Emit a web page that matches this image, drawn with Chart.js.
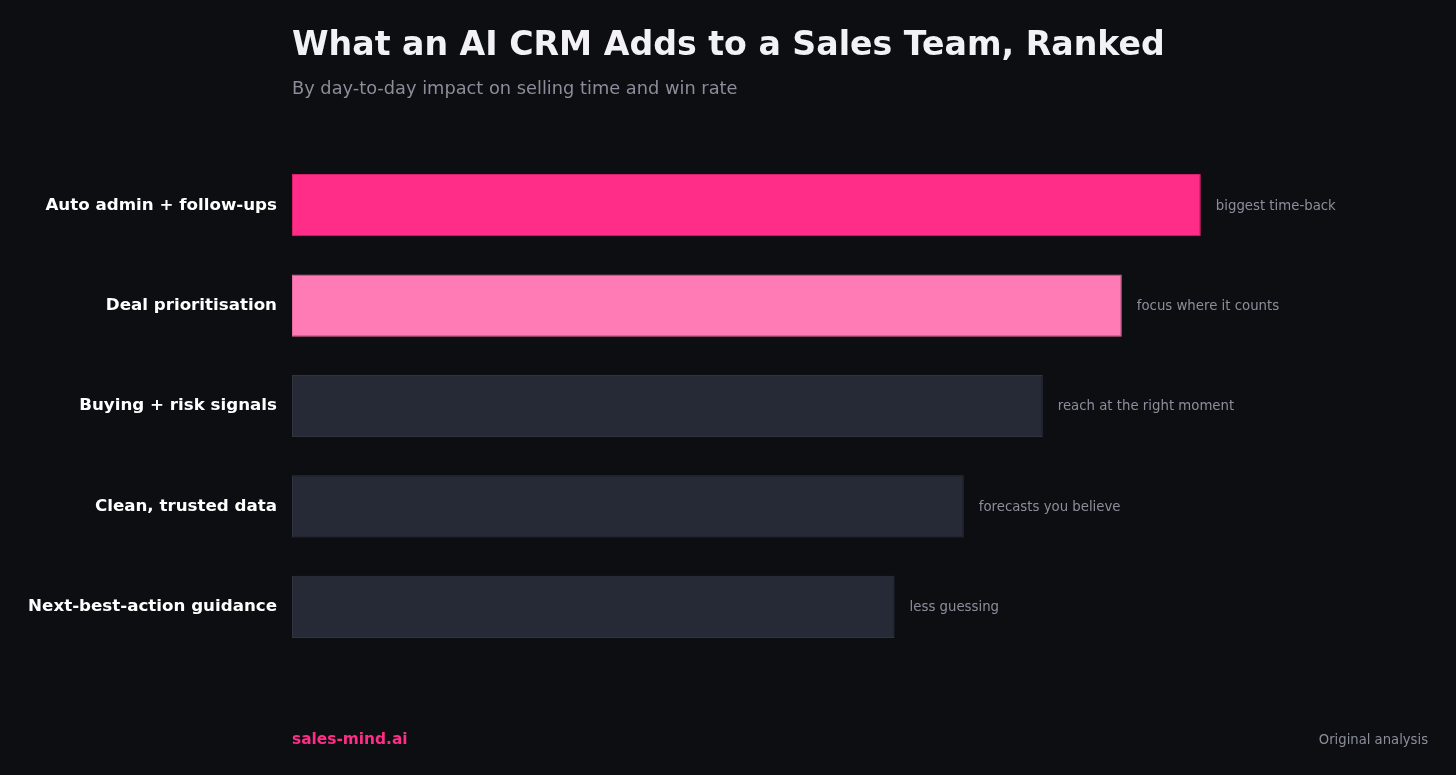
<!DOCTYPE html>
<html>
<head>
<meta charset="utf-8">
<script src="https://cdn.jsdelivr.net/npm/chart.js@4"></script>
<style>
  html, body { margin: 0; padding: 0; background: #0d0e12; }
  canvas { display: block; }
</style>
</head>
<body>
<canvas id="chart" width="1456" height="775"></canvas>
<script>
// Chart data
const categories = ['Auto admin + follow-ups', 'Deal prioritisation', 'Buying + risk signals', 'Clean, trusted data', 'Next-best-action guidance'];
const impactScores = [92, 84, 76, 68, 61];
const notes = ['biggest time-back', 'focus where it counts', 'reach at the right moment', 'forecasts you believe', 'less guessing'];
const barColors = ['#ff2d87', '#ff7bb5', '#262a36', '#262a36', '#262a36'];
const barBorders = ['#d8206f', '#e76aa2', '#30343f', '#30343f', '#30343f'];

const FONT = '"DejaVu Sans", Verdana, sans-serif';

// Title, subtitle, notes and footer drawn on the canvas
const textPlugin = {
    id: 'textPlugin',
    beforeDraw(chart) {
        const ctx = chart.ctx;
        ctx.save();
        ctx.fillStyle = '#0d0e12';
        ctx.fillRect(0, 0, chart.width, chart.height);
        ctx.restore();
    },
    afterDatasetsDraw(chart) {
        const ctx = chart.ctx;
        const left = chart.chartArea.left;
        ctx.save();
        ctx.textBaseline = 'alphabetic';
        ctx.textAlign = 'left';
        ctx.fillStyle = '#f2f2f6';
        ctx.font = 'bold 33.2px ' + FONT;
        ctx.fillText('What an AI CRM Adds to a Sales Team, Ranked', left, 55);
        ctx.fillStyle = '#8a8d9a';
        ctx.font = '17.8px ' + FONT;
        ctx.fillText('By day-to-day impact on selling time and win rate', left, 94);

        // notes next to each bar
        ctx.font = '13.3px ' + FONT;
        ctx.fillStyle = '#8b8f9b';
        ctx.textBaseline = 'middle';
        const meta = chart.getDatasetMeta(0);
        meta.data.forEach((bar, i) => {
            ctx.fillText(notes[i], bar.x + 15, bar.y + 1);
        });

        // footer
        ctx.textBaseline = 'alphabetic';
        ctx.font = 'bold 15.4px ' + FONT;
        ctx.fillStyle = '#ff2d87';
        ctx.fillText('sales-mind.ai', left, 744);
        ctx.font = '13.2px ' + FONT;
        ctx.fillStyle = '#8b8f9b';
        ctx.textAlign = 'right';
        ctx.fillText('Original analysis', chart.chartArea.right, 744);
        ctx.restore();
    }
};

new Chart(document.getElementById('chart').getContext('2d'), {
    type: 'bar',
    data: {
        labels: categories,
        datasets: [{
            data: impactScores,
            backgroundColor: barColors,
            borderColor: barBorders,
            borderWidth: 1,
            borderSkipped: false,
            categoryPercentage: 0.62,
            barPercentage: 1
        }]
    },
    options: {
        indexAxis: 'y',
        responsive: false,
        animation: false,
        devicePixelRatio: 1,
        layout: { padding: { top: 155, right: 28, bottom: 118, left: 0 } },
        plugins: {
            legend: { display: false },
            tooltip: { enabled: false }
        },
        scales: {
            x: {
                display: false,
                min: 0,
                max: 115
            },
            y: {
                afterFit(scale) { scale.width = 292; },
                grid: { display: false, drawTicks: false },
                border: { display: false },
                ticks: {
                    color: '#ffffff',
                    padding: 15,
                    font: { family: FONT, size: 16.7, weight: 'bold', lineHeight: 1.0 }
                }
            }
        }
    },
    plugins: [textPlugin]
});
</script>
</body>
</html>
